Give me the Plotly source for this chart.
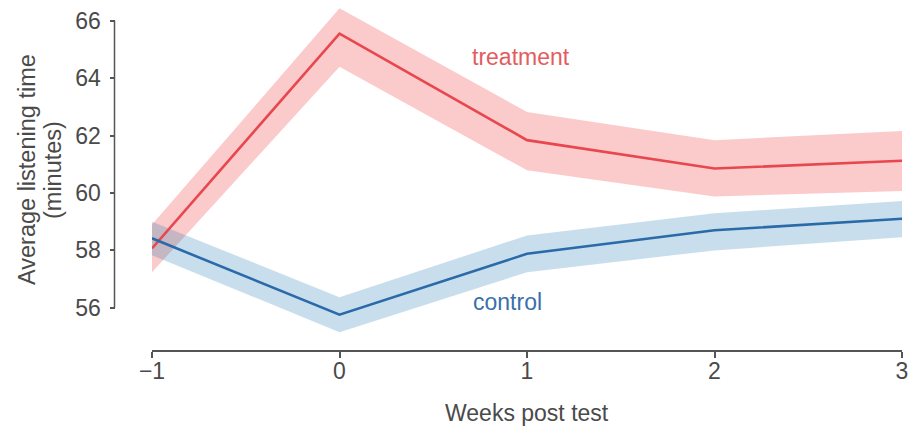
import plotly.graph_objects as go

weeks = [-1, 0, 1, 2, 3]
treatment_mean = [58.07, 65.55, 61.84, 60.85, 61.12]
treatment_upper = [58.90, 66.43, 62.82, 61.84, 62.16]
treatment_lower = [57.24, 64.40, 60.79, 59.88, 60.07]
control_mean = [58.42, 55.76, 57.88, 58.70, 59.10]
control_upper = [59.00, 56.37, 58.52, 59.29, 59.72]
control_lower = [57.83, 55.15, 57.24, 58.00, 58.46]
y_ticks = [56, 58, 60, 62, 64, 66]
x_ticks = [-1, 0, 1, 2, 3]
x_tick_labels = ["\u22121", "0", "1", "2", "3"]

RED = "#e8474f"
RED_FILL = "rgba(239,83,80,0.30)"
BLUE = "#2a6aa8"
BLUE_FILL = "rgba(31,119,180,0.24)"
AXIS = "#555555"
TEXT = "#4a4a4a"
FONT = "Liberation Sans, Arial, sans-serif"
FS = 23

fig = go.Figure()

def band(x, lo, hi, color):
    fig.add_trace(go.Scatter(x=x, y=hi, mode="lines", line=dict(width=0),
                             hoverinfo="skip", showlegend=False))
    fig.add_trace(go.Scatter(x=x, y=lo, mode="lines", line=dict(width=0),
                             fill="tonexty", fillcolor=color,
                             hoverinfo="skip", showlegend=False))

band(weeks, treatment_lower, treatment_upper, RED_FILL)
band(weeks, control_lower, control_upper, BLUE_FILL)
fig.add_trace(go.Scatter(x=weeks, y=treatment_mean, mode="lines",
                         line=dict(color=RED, width=2.6), showlegend=False))
fig.add_trace(go.Scatter(x=weeks, y=control_mean, mode="lines",
                         line=dict(color=BLUE, width=2.6), showlegend=False))

W, H = 911, 428
ML, MR, MT, MB = 60, 9, 3, 78
pw = W - ML - MR
ph = H - MT - MB

def px_x(p):  # window px -> paper x
    return (p - ML) / pw

def px_y(p):  # window px -> paper y
    return (H - MB - p) / ph

x_start = px_x(152)
y_pos = px_x(114.5)

px_per_unit = (307.8 - 20.7) / 10
y_top = 66 + (20.7 - MT) / px_per_unit
y_bot = 56 - (350 - 307.8) / px_per_unit

fig.update_layout(
    width=W, height=H,
    margin=dict(l=ML, r=MR, t=MT, b=MB),
    plot_bgcolor="white", paper_bgcolor="white",
    font=dict(family=FONT, color=TEXT, size=FS),
    hovermode=False,
    xaxis=dict(domain=[x_start, 1], range=[-1, 3], tickvals=x_ticks,
               ticktext=x_tick_labels, showgrid=False, zeroline=False,
               showline=True, linecolor=AXIS, linewidth=1.5,
               ticks="outside", ticklen=6, tickcolor=AXIS, tickwidth=1.5,
               ticklabelstandoff=-6,
               tickfont=dict(size=FS, color=TEXT), automargin=False),
    yaxis=dict(range=[y_bot, y_top], anchor="free", position=y_pos,
               tickvals=y_ticks, showgrid=False, zeroline=False, showline=False,
               ticks="outside", ticklen=5, tickcolor=AXIS, tickwidth=1.5,
               ticklabelstandoff=4,
               tickfont=dict(size=FS, color=TEXT), automargin=False),
    shapes=[dict(type="line", xref="paper", yref="y", x0=y_pos, x1=y_pos,
                 y0=y_ticks[0], y1=y_ticks[-1],
                 line=dict(color=AXIS, width=1.5))],
    annotations=[
        dict(x=0.968, y=64.74, xref="x", yref="y", text="treatment",
             showarrow=False, font=dict(size=FS, color="#e25c60")),
        dict(x=0.897, y=56.21, xref="x", yref="y", text="control",
             showarrow=False, font=dict(size=FS, color="#3a70aa")),
        dict(x=px_x(527), y=px_y(413), xref="paper", yref="paper",
             text="Weeks post test", showarrow=False,
             xanchor="center", yanchor="middle",
             font=dict(size=FS, color=TEXT)),
        dict(x=px_x(27), y=px_y(170), xref="paper", yref="paper",
             text="Average listening time", showarrow=False, textangle=-90,
             xanchor="center", yanchor="middle",
             font=dict(size=FS + 0.5, color=TEXT)),
        dict(x=px_x(53), y=px_y(170), xref="paper", yref="paper",
             text="(minutes)", showarrow=False, textangle=-90,
             xanchor="center", yanchor="middle",
             font=dict(size=FS + 0.5, color=TEXT)),
    ],
)

# remove the browser's default 8px body margin so the figure fills the window
fig.write_html("out.html", config={"displayModeBar": False},
               post_script="document.body.style.margin='0px';")
